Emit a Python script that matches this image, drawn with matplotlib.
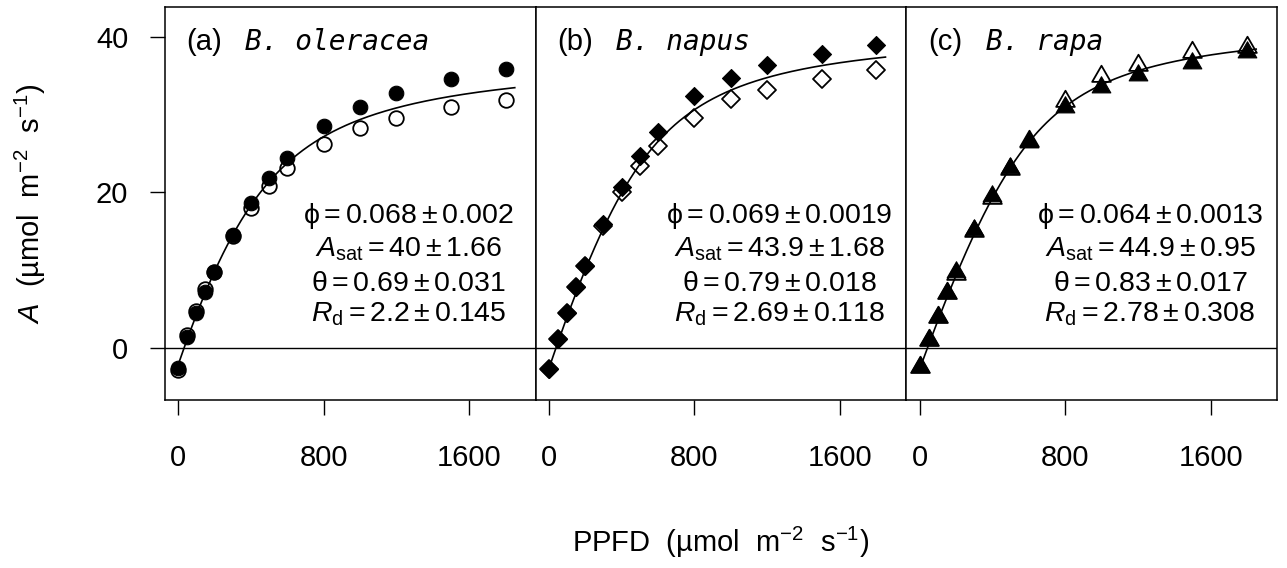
import numpy as np
import matplotlib
matplotlib.use('Agg')
import matplotlib.pyplot as plt
from matplotlib.path import Path
from matplotlib.markers import MarkerStyle

plt.rcParams['font.family'] = ['Liberation Sans', 'DejaVu Sans']
plt.rcParams['mathtext.fontset'] = 'custom'
plt.rcParams['mathtext.rm'] = 'Liberation Sans'
plt.rcParams['mathtext.it'] = 'Liberation Sans:italic'
plt.rcParams['mathtext.default'] = 'regular'

# ---- data ----
ppfd = [0, 50, 100, 150, 200, 300, 400, 500, 600, 800, 1000, 1200, 1500, 1800]

ole_filled = [-2.6, 1.4, 4.5, 7.2, 9.7, 14.5, 18.6, 21.8, 24.4, 28.5, 30.9, 32.7, 34.5, 35.8]
ole_open = [-2.8, 1.7, 4.7, 7.5, 9.8, 14.4, 18.0, 20.8, 23.1, 26.2, 28.2, 29.5, 30.9, 31.9]
nap_filled = [-2.7, 1.2, 4.5, 7.8, 10.5, 15.9, 20.7, 24.7, 27.8, 32.3, 34.7, 36.4, 37.8, 38.9]
nap_open = [-2.7, 1.2, 4.5, 7.8, 10.5, 15.6, 20.0, 23.4, 25.9, 29.5, 32.0, 33.1, 34.5, 35.7]
rap_filled = [-2.4, 1.0, 4.0, 7.0, 9.8, 15.2, 19.5, 23.1, 26.5, 30.9, 33.5, 35.0, 36.6, 38.0]
rap_open = [-2.4, 1.0, 4.0, 7.0, 9.5, 15.0, 19.3, 23.0, 26.6, 31.7, 34.9, 36.4, 38.0, 38.7]

panel_tags = ["(a)", "(b)", "(c)"]
species = ["B. oleracea", "B. napus", "B. rapa"]

# fitted non-rectangular hyperbola parameters (value, standard error as printed)
phi = [0.068, 0.069, 0.064]
asat = [40, 43.9, 44.9]
theta = [0.69, 0.79, 0.83]
rd = [2.2, 2.69, 2.78]
phi_txt = ["0.068", "0.069", "0.064"]
asat_txt = ["40", "43.9", "44.9"]
theta_txt = ["0.69", "0.79", "0.83"]
rd_txt = ["2.2", "2.69", "2.78"]
phi_se = ["0.002", "0.0019", "0.0013"]
asat_se = ["1.66", "1.68", "0.95"]
theta_se = ["0.031", "0.018", "0.017"]
rd_se = ["0.145", "0.118", "0.308"]

xticks = [0, 800, 1600]
yticks = [0, 20, 40]
fit_max = 1850


def nrh(I, p, a, t, r):
    I = np.asarray(I, dtype=float)
    s = p * I + a
    return (s - np.sqrt(s ** 2 - 4 * t * p * I * a)) / (2 * t) - r


tri_path = Path([(0, 1), (-0.866, -0.5), (0.866, -0.5), (0, 1)],
                [Path.MOVETO, Path.LINETO, Path.LINETO, Path.CLOSEPOLY])
tri = MarkerStyle(tri_path, joinstyle='round')
circ = MarkerStyle('o')
diam = MarkerStyle('D', joinstyle='round')

series = [
    (ole_filled, ole_open, circ, 10.5),
    (nap_filled, nap_open, diam, 9.6),
    (rap_filled, rap_open, tri, 15.5),
]

W, H = 1287, 568
fig = plt.figure(figsize=(W / 100, H / 100), dpi=100)
left0 = 165 / W
pw = 370.7 / W
bot = (H - 400) / H
ph = 393 / H

FS = 21

for i in range(3):
    ax = fig.add_axes([left0 + i * pw, bot, pw, ph])
    filled, opn, mk, ms = series[i]
    ax.axhline(0, color='black', lw=1.0, zorder=1)
    ax.plot(ppfd, opn, linestyle='none', marker=mk, ms=ms, mfc='white',
            mec='black', mew=1.3, zorder=2)
    ax.plot(ppfd, filled, linestyle='none', marker=mk, ms=ms, mfc='black',
            mec='black', mew=0.8, zorder=3)
    xx = np.linspace(0, fit_max, 300)
    ax.plot(xx, nrh(xx, phi[i], asat[i], theta[i], rd[i]), color='black',
            lw=1.2, zorder=4)
    ax.set_xlim(-72, 1965)
    ax.set_ylim(-6.7, 43.8)
    ax.set_xticks(xticks)
    ax.set_xticklabels([str(v) for v in xticks])
    ax.tick_params(axis='x', direction='out', length=10.5, width=1.0,
                   labelsize=FS, pad=21)
    if i == 0:
        ax.set_yticks(yticks)
        ax.set_yticklabels([str(v) for v in yticks])
        ax.tick_params(axis='y', direction='out', length=10.5, width=1.0,
                       labelsize=FS, pad=16)
    else:
        ax.set_yticks([])
    for sp in ax.spines.values():
        sp.set_linewidth(1.1)

    ax.text(0.058, 0.8906, panel_tags[i], transform=ax.transAxes,
            fontsize=FS, ha='left', va='baseline')
    ax.text(0.216, 0.8906, species[i], transform=ax.transAxes,
            fontsize=20, ha='left', va='baseline',
            family='DejaVu Sans Mono', style='oblique')

    cx = 0.657
    lines = [
        (r"$\phi = %s \pm %s$" % (phi_txt[i], phi_se[i]), 0.451),
        (r"$\mathit{A}_{\mathrm{sat}} = %s \pm %s$" % (asat_txt[i], asat_se[i]), 0.366),
        (r"$\theta = %s \pm %s$" % (theta_txt[i], theta_se[i]), 0.278),
        (r"$\mathit{R}_{\mathrm{d}} = %s \pm %s$" % (rd_txt[i], rd_se[i]), 0.199),
    ]
    for txt, yy in lines:
        ax.text(cx, yy, txt, transform=ax.transAxes, fontsize=20.5,
                ha='center', va='baseline')

fig.text(30 / W, 1 - 203.5 / H, r"$\mathit{A}$  (µmol  m$^{-2}$  s$^{-1}$)",
         rotation=90, ha='center', va='center', fontsize=FS)
fig.text(721 / W, 1 - 542 / H, r"PPFD  (µmol  m$^{-2}$  s$^{-1}$)",
         ha='center', va='center', fontsize=FS)

fig.savefig('out.png', dpi=100)
